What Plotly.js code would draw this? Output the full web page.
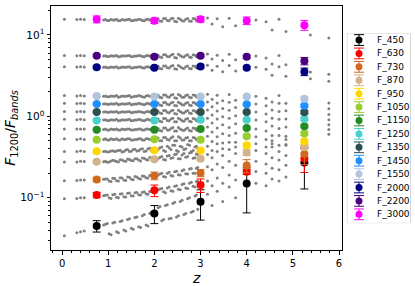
<!DOCTYPE html>
<html><head><meta charset="utf-8">
<script src="https://cdn.plot.ly/plotly-3.0.1.min.js"></script>
<style>html,body{margin:0;padding:0;background:#fff}#chart{width:415px;height:286px}</style>
</head><body><div id="chart"></div>
<script>
// ---------- data ----------
const bands = ['F_450','F_630','F_730','F_870','F_950','F_1050','F_1150','F_1250','F_1350','F_1450','F_1550','F_2000','F_2200','F_3000'];
const bandColors = ['#000000','#ff0000','#d2691e','#d2b48c','#ffd700','#9acd32','#228b22','#48d1cc','#2f4f4f','#1e90ff','#b0c4de','#000080','#4b0082','#ff00ff'];

const zMarks = [0.75, 2.0, 3.0, 4.0, 5.25];
const v450  = [0.045, 0.064, 0.089, 0.149, 0.27];
const v630  = [0.108, 0.123, 0.143, 0.208, 0.304];
const v730  = [0.167, 0.186, 0.201, 0.248, 0.345];
const v870  = [0.277, 0.296, 0.300, 0.360, 0.420];
const v950  = [0.371, 0.382, 0.380, 0.440, 0.493];
const v1050 = [0.516, 0.521, 0.517, 0.567, 0.613];
const v1150 = [0.686, 0.686, 0.700, 0.720, 0.753];
const v1250 = [0.89, 0.89, 0.91, 0.91, 0.93];
const v1350 = [1.13, 1.13, 1.13, 1.13, 1.12];
const v1450 = [1.42, 1.42, 1.42, 1.41, 1.35];
const v1550 = [1.78, 1.75, 1.75, 1.75, 1.64];
const v2000 = [4.00, 3.96, 4.10, 3.96, 3.54];
const v2200 = [5.56, 5.41, 5.56, 5.40, 4.79];
const v3000 = [15.6, 15.0, 15.6, 15.0, 13.2];

const e450  = [0.0072, 0.016, 0.036, 0.084, 0.142];
const e630  = [0.008, 0.02, 0.027, 0.015, 0.10];
const e730  = [0.01, 0.02, 0.02, 0.045, 0.09];
const e870  = [0.008, 0.01, 0.01, 0.03, 0.03];
const e950  = [0.01, 0.012, 0.012, 0.025, 0.03];
const e1050 = [0.012, 0.015, 0.015, 0.025, 0.03];
const e1150 = [0.015, 0.015, 0.02, 0.02, 0.03];
const e1250 = [0.02, 0.02, 0.02, 0.03, 0.04];
const e1350 = [0.025, 0.025, 0.03, 0.03, 0.05];
const e1450 = [0.03, 0.03, 0.035, 0.04, 0.06];
const e1550 = [0.04, 0.04, 0.045, 0.05, 0.09];
const e2000 = [0.12, 0.12, 0.15, 0.15, 0.38];
const e2200 = [0.18, 0.18, 0.2, 0.22, 0.5];
const e3000 = [1.5, 1.1, 1.2, 1.6, 1.8];

// grey sample points (shared redshifts), first set
const zGrey = [0.05,0.32,0.40,0.48,
 0.90,0.98,1.06,1.14,1.22,1.30,1.38,1.46,1.54,1.62,1.70,1.78,1.86,1.93,
 2.08,2.16,2.24,2.32,2.40,2.48,2.56,2.64,2.72,2.80,2.88,2.94,
 3.15,3.25,3.36,3.48,3.62,3.76,
 4.20,4.42,4.55,4.70,4.85,
 5.38,5.78];
const g3000 = [15.6,15.5,15.6,15.5, 15.3,15.1,15.5,15.3,15.0,15.5,15.3,15.6,15.1,15.3,15.5,15.0,15.6,15.3, 15.8,14.7,15.9,15.0,16.1,14.5,15.6,14.8,15.9,14.7,15.8,15.0, 16.2,13.6,15.8,12.6,16.0,13.0, 15.3,14.5,11.5,15.6,11.0, 10.0,9.2];
const g2200 = [5.6,5.55,5.6,5.55, 5.5,5.45,5.55,5.5,5.4,5.55,5.5,5.6,5.45,5.5,5.55,5.4,5.6,5.5, 5.65,5.3,5.7,5.4,5.8,5.2,5.6,5.35,5.7,5.3,5.65,5.4, 5.85,5.05,5.65,4.85,5.8,4.95, 5.5,5.2,4.4,5.6,4.3, 3.5,3.3];
const g2000 = [4.08,4.05,4.08,4.05, 4.0,3.96,4.04,4.0,3.92,4.04,4.0,4.08,3.96,4.0,4.04,3.92,4.08,4.0, 4.12,3.84,4.16,3.92,4.2,3.8,4.08,3.88,4.16,3.84,4.12,3.92, 4.24,3.68,4.12,3.52,4.2,3.6, 4.0,3.8,3.2,4.08,3.1, 2.9,2.7];
const g1550 = [1.8,1.78,1.8,1.78, 1.76,1.74,1.78,1.76,1.72,1.78,1.76,1.8,1.74,1.76,1.78,1.72,1.8,1.76, 1.81,1.69,1.83,1.72,1.85,1.67,1.8,1.71,1.83,1.69,1.81,1.72, 1.87,1.62,1.81,1.55,1.85,1.58, 1.76,1.67,1.5,1.8,1.45, null,1.46];
const g1450 = [1.45,1.44,1.45,1.44, 1.42,1.41,1.43,1.42,1.39,1.43,1.42,1.45,1.41,1.42,1.43,1.39,1.45,1.42, 1.46,1.36,1.48,1.39,1.49,1.35,1.45,1.38,1.48,1.36,1.46,1.39, 1.5,1.31,1.46,1.25,1.49,1.28, 1.42,1.35,1.2,1.45,1.17, null,1.24];
const g1350 = [1.15,1.14,1.15,1.14, 1.13,1.12,1.14,1.13,1.11,1.14,1.13,1.15,1.12,1.13,1.14,1.11,1.15,1.13, 1.16,1.08,1.18,1.11,1.19,1.07,1.15,1.1,1.18,1.08,1.16,1.11, 1.2,1.04,1.16,0.99,1.19,1.02, 1.13,1.07,0.95,1.15,0.93, null,1.05];
const g1250 = [0.92,0.91,0.92,0.91, 0.9,0.89,0.91,0.9,0.88,0.91,0.9,0.92,0.89,0.9,0.91,0.88,0.92,0.9, 0.93,0.86,0.94,0.88,0.95,0.86,0.92,0.87,0.94,0.86,0.93,0.88, 0.95,0.83,0.93,0.79,0.95,0.81, 0.9,0.86,0.76,0.92,0.74, null,0.91];
const g1150 = [0.7,0.7,0.7,0.7, 0.69,0.68,0.7,0.69,0.68,0.7,0.69,0.7,0.68,0.69,0.7,0.68,0.7,0.69, 0.71,0.66,0.72,0.68,0.73,0.66,0.7,0.67,0.72,0.66,0.71,0.68, 0.74,0.64,0.72,0.61,0.73,0.62, 0.7,0.66,0.58,0.71,0.57, null,0.79];
const g1050 = [0.53,0.52,0.53,0.52, 0.52,0.51,0.53,0.52,0.51,0.53,0.52,0.53,0.51,0.52,0.53,0.51,0.53,0.52, 0.54,0.5,0.55,0.51,0.56,0.5,0.54,0.51,0.55,0.5,0.54,0.52, 0.57,0.49,0.56,0.47,0.58,0.48, 0.56,0.52,0.46,0.58,0.45, null,0.69];
const g950  = [0.37,0.37,0.375,0.37, 0.37,0.365,0.375,0.37,0.38,0.365,0.385,0.37,0.39,0.375,0.395,0.37,0.4,0.38, 0.39,0.42,0.37,0.41,0.44,0.38,0.43,0.39,0.45,0.37,0.42,0.4, 0.43,0.38,0.46,0.4,0.48,0.42, 0.46,0.42,0.5,0.44,0.52, null,0.6];
const g870  = [0.275,0.275,0.28,0.278, 0.277,0.272,0.282,0.285,0.275,0.29,0.28,0.295,0.285,0.3,0.283,0.305,0.29,0.31, 0.3,0.32,0.29,0.33,0.31,0.345,0.3,0.35,0.32,0.36,0.31,0.34, 0.34,0.31,0.37,0.33,0.39,0.35, 0.38,0.35,0.42,0.37,0.44, null,null];
const g730  = [0.162,0.163,0.165,0.165, 0.168,0.17,0.158,0.172,0.16,0.175,0.163,0.178,0.166,0.18,0.17,0.183,0.174,0.187, 0.19,0.2,0.18,0.205,0.185,0.212,0.19,0.22,0.195,0.228,0.2,0.235, 0.24,0.22,0.26,0.235,0.28,0.25, 0.28,0.26,0.31,0.29,0.33, null,null];
const g630  = [0.097,0.098,0.1,0.1, 0.106,0.108,0.098,0.11,0.1,0.112,0.102,0.114,0.105,0.116,0.108,0.118,0.11,0.12, 0.125,0.13,0.115,0.135,0.12,0.14,0.125,0.148,0.13,0.155,0.135,0.16, 0.16,0.14,0.175,0.15,0.19,0.165, 0.21,0.2,0.23,0.22,0.25, null,null];
const g450  = [0.034,0.037,0.038,0.039, 0.046,0.048,0.035,0.05,0.037,0.052,0.039,0.055,0.041,0.058,0.043,0.062,0.045,0.066, 0.075,0.052,0.08,0.055,0.085,0.058,0.09,0.062,0.097,0.066,0.105,0.072, 0.11,0.08,0.12,0.09,0.135,0.1, 0.15,0.14,0.17,0.16,0.18, null,null];

// grey sample points, second set (fills the dense streaks)
const zGreyB = [0.94,1.02,1.10,1.18,1.26,1.34,1.42,1.50,1.58,1.66,1.74,1.82,1.90, 2.12,2.20,2.28,2.36,2.44,2.52,2.60,2.68,2.76,2.84,2.91];
const h3000 = [15.5,15.1,15.3,15.6,15.1,15.3,15.5,15.0,15.3,15.6,15.1,15.5,15.3, 14.8,15.9,15.1,15.8,14.7,16.1,15.0,15.6,14.8,15.9,15.1];
const h2200 = [5.55,5.45,5.5,5.6,5.45,5.5,5.55,5.4,5.5,5.6,5.45,5.55,5.5, 5.35,5.7,5.45,5.65,5.3,5.8,5.4,5.6,5.35,5.7,5.45];
const h2000 = [4.04,3.96,4.0,4.08,3.96,4.0,4.04,3.92,4.0,4.08,3.96,4.04,4.0, 3.88,4.16,3.96,4.12,3.84,4.2,3.92,4.08,3.88,4.16,3.96];
const h1550 = [1.78,1.74,1.76,1.8,1.74,1.76,1.78,1.72,1.76,1.8,1.74,1.78,1.76, 1.71,1.83,1.74,1.81,1.69,1.85,1.72,1.8,1.71,1.83,1.74];
const h1450 = [1.43,1.41,1.42,1.45,1.41,1.42,1.43,1.39,1.42,1.45,1.41,1.43,1.42, 1.38,1.48,1.41,1.46,1.36,1.49,1.39,1.45,1.38,1.48,1.41];
const h1350 = [1.14,1.12,1.13,1.15,1.12,1.13,1.14,1.11,1.13,1.15,1.12,1.14,1.13, 1.1,1.18,1.12,1.16,1.08,1.19,1.11,1.15,1.1,1.18,1.12];
const h1250 = [0.91,0.89,0.9,0.92,0.89,0.9,0.91,0.88,0.9,0.92,0.89,0.91,0.9, 0.87,0.94,0.89,0.93,0.86,0.95,0.88,0.92,0.87,0.94,0.89];
const h1150 = [0.7,0.68,0.69,0.7,0.68,0.69,0.7,0.68,0.69,0.7,0.68,0.7,0.69, 0.67,0.72,0.68,0.71,0.66,0.73,0.68,0.7,0.67,0.72,0.68];
const h1050 = [0.53,0.51,0.52,0.53,0.51,0.52,0.53,0.51,0.52,0.53,0.51,0.53,0.52, 0.5,0.55,0.52,0.54,0.5,0.56,0.51,0.54,0.5,0.55,0.52];
const h950  = [0.372,0.368,0.378,0.375,0.383,0.37,0.39,0.372,0.395,0.378,0.4,0.375,0.405, 0.41,0.38,0.43,0.39,0.44,0.37,0.42,0.4,0.44,0.38,0.43];
const h870  = [0.28,0.274,0.288,0.279,0.292,0.282,0.298,0.287,0.302,0.29,0.307,0.294,0.312, 0.315,0.295,0.325,0.305,0.34,0.3,0.335,0.315,0.355,0.305,0.345];
const h730  = [0.17,0.16,0.173,0.162,0.176,0.165,0.179,0.168,0.182,0.172,0.185,0.176,0.188, 0.195,0.182,0.2,0.188,0.208,0.192,0.215,0.197,0.225,0.2,0.23];
const h630  = [0.107,0.1,0.109,0.101,0.111,0.103,0.113,0.106,0.115,0.109,0.117,0.112,0.119, 0.128,0.118,0.132,0.122,0.138,0.127,0.145,0.132,0.15,0.138,0.158];
const h450  = [0.047,0.036,0.049,0.038,0.051,0.04,0.054,0.042,0.057,0.044,0.06,0.046,0.064, 0.078,0.054,0.082,0.056,0.088,0.06,0.093,0.064,0.1,0.068,0.108];

const yTickVals = [0.1, 1, 10];
const yTickText = ['10<sup>\u22121</sup>', '10<sup>0</sup>', '10<sup>1</sup>'];
const yMinorVals = [0.03,0.04,0.05,0.06,0.07,0.08,0.09,0.2,0.3,0.4,0.5,0.6,0.7,0.8,0.9,2,3,4,5,6,7,8,9,20];

// ---------- build ----------
const markVals = [v450,v630,v730,v870,v950,v1050,v1150,v1250,v1350,v1450,v1550,v2000,v2200,v3000];
const markErrs = [e450,e630,e730,e870,e950,e1050,e1150,e1250,e1350,e1450,e1550,e2000,e2200,e3000];
const greyA = [g450,g630,g730,g870,g950,g1050,g1150,g1250,g1350,g1450,g1550,g2000,g2200,g3000];
const greyB = [h450,h630,h730,h870,h950,h1050,h1150,h1250,h1350,h1450,h1550,h2000,h2200,h3000];

const font = 'DejaVu Sans, Arial, sans-serif';
const traces = [];
const zAll = zGrey.concat(zGreyB);
greyA.forEach((g,i) => traces.push({
  type:'scatter', mode:'markers', x:zAll, y:g.concat(greyB[i]), xaxis:'x', yaxis:'y',
  marker:{color:'#808080', size:3}, showlegend:false, hoverinfo:'skip'
}));
bands.forEach((b,i) => traces.push({
  type:'scatter', mode:'markers', x:zMarks, y:markVals[i], name:b, xaxis:'x', yaxis:'y',
  marker:{color:bandColors[i], size:8},
  error_y:{type:'data', array:markErrs[i], visible:true, color:bandColors[i], thickness:1, width:4},
  showlegend:false
}));
// legend drawn on its own small subplot
const annotations = [];
bands.forEach((b,i) => {
  traces.push({
    type:'scatter', mode:'markers', x:[12.3], y:[i], xaxis:'x2', yaxis:'y2',
    marker:{color:bandColors[i], size:7},
    error_y:{type:'data', array:[0.4], visible:true, color:bandColors[i], thickness:1, width:5},
    showlegend:false, hoverinfo:'skip'
  });
  annotations.push({xref:'x2', yref:'y2', x:28, y:i, text:b, showarrow:false, xanchor:'left', yanchor:'middle',
    font:{family:font, size:9, color:'#000'}});
});

const layout = {
  width:415, height:286,
  margin:{l:51, r:4, t:6, b:36},
  paper_bgcolor:'#fff', plot_bgcolor:'#fff',
  font:{family:font, color:'#000', size:10},
  showlegend:false,
  xaxis:{domain:[0,0.809], range:[-0.24,6.07], tick0:0, dtick:1, ticks:'outside', ticklen:3.5, tickwidth:1,
    tickcolor:'#000', showline:true, linecolor:'#000', linewidth:1, mirror:true, showgrid:false, zeroline:false,
    tickfont:{size:10},
    minor:{dtick:0.2, tick0:0, ticks:'outside', ticklen:2, tickwidth:1, tickcolor:'#000', showgrid:false},
    title:{text:'<i>z</i>', font:{size:14}, standoff:11}},
  yaxis:{type:'log', range:[-1.643,1.356], tickmode:'array', tickvals:yTickVals, ticktext:yTickText,
    ticks:'outside', ticklen:3.5, tickwidth:1, tickcolor:'#000', showline:true, linecolor:'#000', linewidth:1,
    mirror:true, showgrid:false, zeroline:false, tickfont:{size:10.5},
    minor:{tickmode:'array', tickvals:yMinorVals, ticks:'outside', ticklen:2, tickwidth:1, tickcolor:'#000', showgrid:false},
    title:{text:'<i>F</i><sub>1200</sub>/<i>F</i><sub><i>bands</i></sub>', font:{size:14}, standoff:1}},
  xaxis2:{domain:[0.8214,1.0], range:[0,64.3], visible:false, anchor:'y2', fixedrange:true},
  yaxis2:{domain:[0.1094,0.888], range:[13.67,-0.5], visible:false, anchor:'x2', fixedrange:true},
  shapes:[{type:'rect', xref:'x2', yref:'y2', x0:0.3, x1:63.8, y0:-0.5, y1:13.67,
    line:{color:'#d6d6d6', width:1}, fillcolor:'rgba(255,255,255,0.8)', layer:'below'}],
  annotations:annotations
};
Plotly.newPlot('chart', traces, layout, {staticPlot:true, displayModeBar:false});
</script></body></html>
